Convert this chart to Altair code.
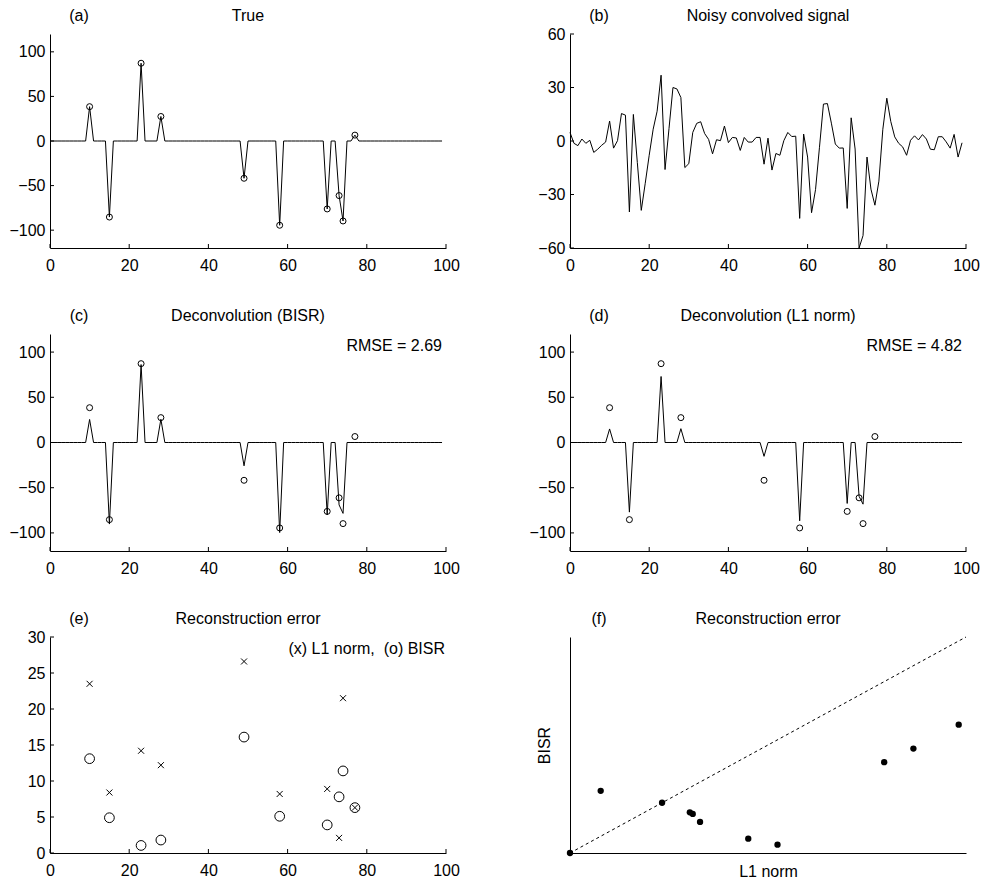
import altair as alt
import pandas as pd

# ---------------- data ----------------
X = list(range(100))
SPIKE_POS = [10, 15, 23, 28, 49, 58, 70, 73, 74, 77]
TRUE_AMP = [38.5, -85.3, 87.2, 27.5, -41.8, -94.5, -76.2, -61.2, -89.7, 6.6]
BISR_AMP = [25.5, -90.2, 86.2, 25.7, -25.8, -99.6, -80.1, -69.0, -78.4, 0.0]
L1_AMP = [15.0, -77.0, 73.0, 15.3, -15.3, -86.6, -67.4, -59.5, -68.2, 0.0]

NOISY = [4.8, -1.3, -2.6, 1.1, -1.3, 0.4, -6.4, -4.6, -2.4, -0.6,
         11.2, -4.0, 0.2, 15.4, 14.5, -39.8, 14.9, -12.0, -38.9, -23.7,
         -8.0, 6.6, 16.7, 36.9, -16.0, 7.0, 30.0, 29.2, 24.4, -14.9,
         -12.7, 4.8, 9.9, 10.8, 4.2, 0.9, -7.2, 0.7, 0.2, 8.4,
         -0.9, 2.0, 1.7, -5.3, 2.0, -0.6, -0.6, 2.0, 2.0, -13.0,
         1.6, -16.3, -7.0, -8.0, 0.2, 4.8, 2.5, 2.7, -43.4, 3.9,
         -9.0, -40.2, -27.3, -3.5, 20.7, 21.0, 10.0, -1.7, -4.0, -3.9,
         -37.8, 13.0, -4.5, -60.0, -53.0, -9.0, -27.0, -36.0, -22.5, 6.6,
         24.0, 11.0, 2.3, -1.3, -3.3, -8.0, 0.4, 2.9, 0.6, 3.6,
         1.1, -4.6, -4.9, 2.4, 2.4, -0.5, -4.0, 3.7, -9.0, -1.0]

ERR_L1 = [23.5, 8.4, 14.2, 12.2, 26.6, 8.2, 8.9, 2.1, 21.5, 6.3]
ERR_BISR = [13.1, 4.9, 1.05, 1.8, 16.1, 5.1, 3.9, 7.8, 11.4, 6.3]
F_ORIGIN = [0.0]
F_DIAG = [0.0, 27.1]

TITLES = ["True", "Noisy convolved signal", "Deconvolution (BISR)",
          "Deconvolution (L1 norm)", "Reconstruction error", "Reconstruction error"]
LETTERS = ["(a)", "(b)", "(c)", "(d)", "(e)", "(f)"]
RMSE_LABELS = ["RMSE = 2.69", "RMSE = 4.82"]
LEGEND_E = ["(x) L1 norm,\u00a0 (o) BISR"]
F_XTITLE = "L1 norm"
F_YTITLE = "BISR"

X_TICKS = [0, 20, 40, 60, 80, 100]
Y_TICKS_SIG = [-100, -50, 0, 50, 100]
Y_TICKS_B = [-60, -30, 0, 30, 60]
Y_TICKS_E = [0, 5, 10, 15, 20, 25, 30]

# ---------------- style ----------------
FONT = "Liberation Sans"
FS = 16
W = 396
H1, H2, H3 = 214, 217, 216
ROW_GAP, COL_GAP = 86, 124
TICK_LEN = 4
HEAD_Y = -18


def series_from_spikes(pos, amp):
    s = [0.0] * len(X)
    for p, a in zip(pos, amp):
        s[p] = a
    return s


def axis_x(values):
    return alt.Axis(values=values, tickSize=0, labelPadding=9, labelFontSize=FS,
                    labelFont=FONT, labelColor="black", domainColor="black",
                    grid=False, title=None, labelFlush=False, labelOverlap=False)


def axis_y(values):
    return alt.Axis(values=values, tickSize=0, labelPadding=5, labelFontSize=FS,
                    labelFont=FONT, labelColor="black", domainColor="black",
                    grid=False, title=None, labelFlush=False, labelOverlap=False)


def headers(i):
    t = alt.Chart(pd.DataFrame({"label": [TITLES[i]]})).mark_text(
        font=FONT, fontSize=FS, color="black", align="center", baseline="middle"
    ).encode(x=alt.value(W / 2), y=alt.value(HEAD_Y), text="label:N")
    l = alt.Chart(pd.DataFrame({"label": [LETTERS[i]]})).mark_text(
        font=FONT, fontSize=FS, color="black", align="center", baseline="middle"
    ).encode(x=alt.value(29), y=alt.value(HEAD_Y), text="label:N")
    return [t, l]


def inward_ticks(xs, ys, xenc, yenc, h):
    xt = alt.Chart(pd.DataFrame({"t": xs})).mark_rule(color="black", strokeWidth=1).encode(
        x=xenc("t"), y=alt.value(h), y2=alt.value(h - TICK_LEN))
    yt = alt.Chart(pd.DataFrame({"t": ys})).mark_rule(color="black", strokeWidth=1).encode(
        y=yenc("t"), x=alt.value(0), x2=alt.value(TICK_LEN))
    return [xt, yt]


def corner_text(label, xpos):
    return alt.Chart(pd.DataFrame({"label": label})).mark_text(
        font=FONT, fontSize=FS, color="black", align="right", baseline="middle"
    ).encode(x=alt.value(xpos), y=alt.value(12), text="label:N")


def make_enc(channel, scale, axis):
    def enc(field):
        return channel(f"{field}:Q", scale=scale, axis=axis)
    return enc


xs_sig = alt.Scale(domain=[0, 100], nice=False, zero=False)
ys_sig = alt.Scale(domain=[-120, 120], nice=False, zero=False)
XENC = make_enc(alt.X, xs_sig, axis_x(X_TICKS))
YENC_SIG = make_enc(alt.Y, ys_sig, axis_y(Y_TICKS_SIG))

spike_df = pd.DataFrame({"x": SPIKE_POS, "y": TRUE_AMP})


def signal_panel(i, series, h, extra=None):
    df = pd.DataFrame({"x": X, "y": series})
    line = alt.Chart(df).mark_line(color="black", strokeWidth=1).encode(
        x=XENC("x"), y=YENC_SIG("y"))
    circ = alt.Chart(spike_df).mark_point(shape="circle", filled=False, size=36,
                                          color="black", strokeWidth=1, opacity=1).encode(
        x=XENC("x"), y=YENC_SIG("y"))
    layers = [line, circ] + inward_ticks(X_TICKS, Y_TICKS_SIG, XENC, YENC_SIG, h) + headers(i)
    if extra is not None:
        layers.append(extra)
    return alt.layer(*layers).properties(width=W, height=h)


pa = signal_panel(0, series_from_spikes(SPIKE_POS, TRUE_AMP), H1)
pc = signal_panel(2, series_from_spikes(SPIKE_POS, BISR_AMP), H2, corner_text([RMSE_LABELS[0]], W - 4))
pd_ = signal_panel(3, series_from_spikes(SPIKE_POS, L1_AMP), H2, corner_text([RMSE_LABELS[1]], W - 4))

# (b) noisy convolved signal
ys_b = alt.Scale(domain=[-60, 60], nice=False, zero=False)
YENC_B = make_enc(alt.Y, ys_b, axis_y(Y_TICKS_B))
pb = alt.layer(
    alt.Chart(pd.DataFrame({"x": X, "y": NOISY})).mark_line(color="black", strokeWidth=1).encode(
        x=XENC("x"), y=YENC_B("y")),
    *inward_ticks(X_TICKS, Y_TICKS_B, XENC, YENC_B, H1),
    *headers(1),
).properties(width=W, height=H1)

# (e) reconstruction error
ys_e = alt.Scale(domain=[0, 30], nice=False, zero=False)
YENC_E = make_enc(alt.Y, ys_e, axis_y(Y_TICKS_E))
err_df = pd.DataFrame({"x": SPIKE_POS, "l1": ERR_L1, "bisr": ERR_BISR})
pe = alt.layer(
    alt.Chart(err_df).mark_point(shape="M-1,-1L1,1M1,-1L-1,1", filled=False, size=36,
                                 color="black", strokeWidth=1, opacity=1).encode(
        x=XENC("x"), y=YENC_E("l1")),
    alt.Chart(err_df).mark_point(shape="circle", filled=False, size=95,
                                 color="black", strokeWidth=1, opacity=1).encode(
        x=XENC("x"), y=YENC_E("bisr")),
    *inward_ticks(X_TICKS, Y_TICKS_E, XENC, YENC_E, H3),
    *headers(4),
    corner_text(LEGEND_E, W - 1),
).properties(width=W, height=H3)

# (f) BISR vs L1 error
fs = alt.Scale(domain=F_DIAG, nice=False, zero=False)
ax_fx = alt.Axis(labels=False, ticks=False, grid=False, domainColor="black", title=F_XTITLE,
                 titleFont=FONT, titleFontSize=FS, titleFontWeight="normal",
                 titleColor="black", titlePadding=10)
ax_fy = alt.Axis(labels=False, ticks=False, grid=False, domainColor="black", title=F_YTITLE,
                 titleFont=FONT, titleFontSize=FS, titleFontWeight="normal",
                 titleColor="black", titlePadding=18)
f_pts = pd.DataFrame({"l1": F_ORIGIN + ERR_L1, "bisr": F_ORIGIN + ERR_BISR})
pf = alt.layer(
    alt.Chart(pd.DataFrame({"l1": F_DIAG, "bisr": F_DIAG})).mark_line(
        color="black", strokeWidth=1, strokeDash=[3, 3]).encode(
        x=alt.X("l1:Q", scale=fs, axis=ax_fx),
        y=alt.Y("bisr:Q", scale=fs, axis=ax_fy)),
    alt.Chart(f_pts).mark_circle(color="black", size=40, opacity=1).encode(
        x=alt.X("l1:Q", scale=fs, axis=ax_fx),
        y=alt.Y("bisr:Q", scale=fs, axis=ax_fy)),
    *headers(5),
).properties(width=W, height=H3)

chart = alt.concat(pa, pb, pc, pd_, pe, pf, columns=2,
                   spacing={"row": ROW_GAP, "column": COL_GAP}, bounds="flush").properties(
    padding={"left": 0, "top": 0, "right": 0, "bottom": 0}
).configure_view(stroke=None)

chart.save("out.html", embed_options={"renderer": "svg", "actions": False})
